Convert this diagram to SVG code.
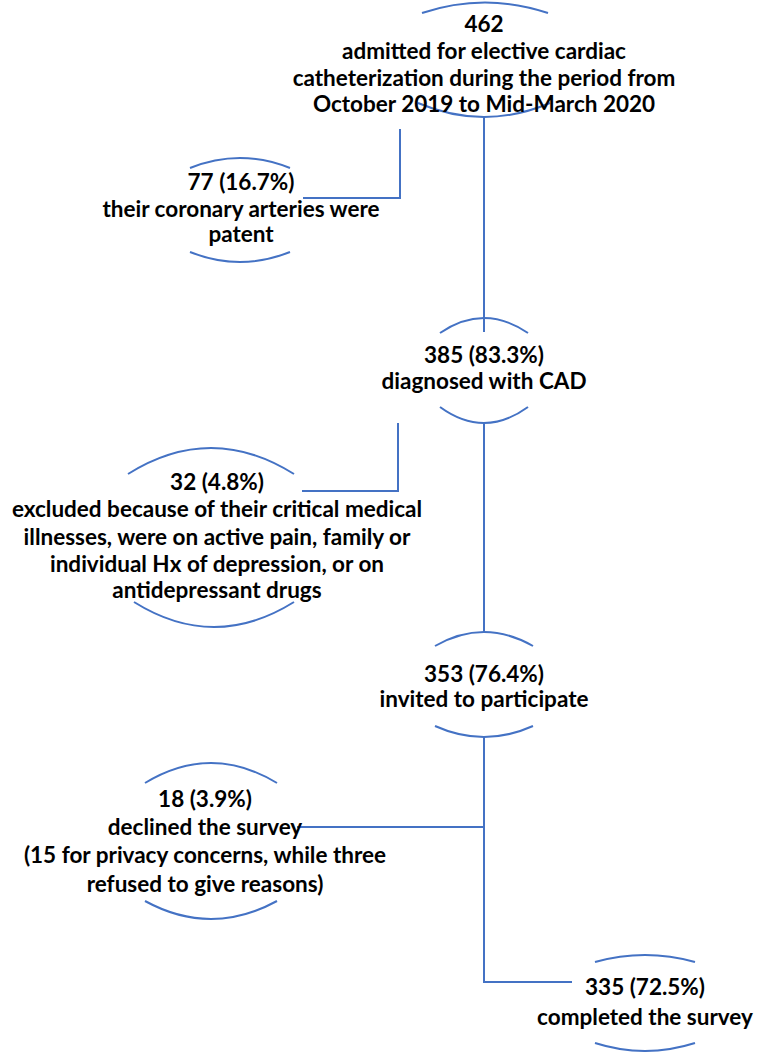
<svg xmlns="http://www.w3.org/2000/svg" width="759" height="1052" viewBox="0 0 759 1052">
<style>
.t{font-family:Lato,"Liberation Sans",sans-serif;font-weight:700;font-size:22.5px;fill:#000;text-anchor:middle}
.a{fill:none;stroke:#4472C4;stroke-width:2}
.c{fill:none;stroke:#4472C4;stroke-width:2}
</style>
<rect width="759" height="1052" fill="#fff"/>
<g id="connectors">
<path class="c" d="M484,117 V332"/>
<path class="c" d="M484,423 V632"/>
<path class="c" d="M484,737 V982 H572"/>
<path class="c" d="M400,129 V198 H303"/>
<path class="c" d="M398,423 V491 H302"/>
<path class="c" d="M484,827 H297"/>
</g>
<g id="n462">
<path class="a" d="M422,13 Q485,-8 548,13"/>
<path class="a" d="M418,103 Q484,131 550,103"/>
<text class="t" x="484" y="32">462</text>
<text class="t" x="484" y="59">admitted for elective cardiac</text>
<text class="t" x="484" y="86">catheterization during the period from</text>
<text class="t" x="484" y="112">October 2019 to Mid-March 2020</text>
</g>
<g id="n77">
<path class="a" d="M190,168 Q240,148 290,168"/>
<path class="a" d="M190,252 Q240,272 290,252"/>
<text class="t" x="241" y="190">77 (16.7%)</text>
<text class="t" x="241" y="217">their coronary arteries were</text>
<text class="t" x="241" y="242">patent</text>
</g>
<g id="n385">
<path class="a" d="M440,333 Q484,303 528,333"/>
<path class="a" d="M440,407 Q484,439 528,407"/>
<text class="t" x="484" y="363">385 (83.3%)</text>
<text class="t" x="484" y="389">diagnosed with CAD</text>
</g>
<g id="n32">
<path class="a" d="M128,474 Q211,422 294,474"/>
<path class="a" d="M134,602 Q214,652 294,602"/>
<text class="t" x="217" y="490">32 (4.8%)</text>
<text class="t" x="217" y="517">excluded because of their critical medical</text>
<text class="t" x="217" y="545">illnesses, were on active pain, family or</text>
<text class="t" x="217" y="572">individual Hx of depression, or on</text>
<text class="t" x="217" y="598">antidepressant drugs</text>
</g>
<g id="n353">
<path class="a" d="M435,646 Q484,618 533,646"/>
<path class="a" d="M435,726 Q484,748 533,726"/>
<text class="t" x="484" y="682">353 (76.4%)</text>
<text class="t" x="484" y="707">invited to participate</text>
</g>
<g id="n18">
<path class="a" d="M145,783 Q211,743 277,783"/>
<path class="a" d="M145,901 Q211,937 277,901"/>
<text class="t" x="205" y="807">18 (3.9%)</text>
<text class="t" x="205" y="835">declined the survey</text>
<text class="t" x="205" y="863">(15 for privacy concerns, while three</text>
<text class="t" x="205" y="892">refused to give reasons)</text>
</g>
<g id="n335">
<path class="a" d="M595,962 Q645,948 695,962"/>
<path class="a" d="M595,1043 Q645,1059 695,1043"/>
<text class="t" x="645" y="995">335 (72.5%)</text>
<text class="t" x="645" y="1025">completed the survey</text>
</g>
</svg>
